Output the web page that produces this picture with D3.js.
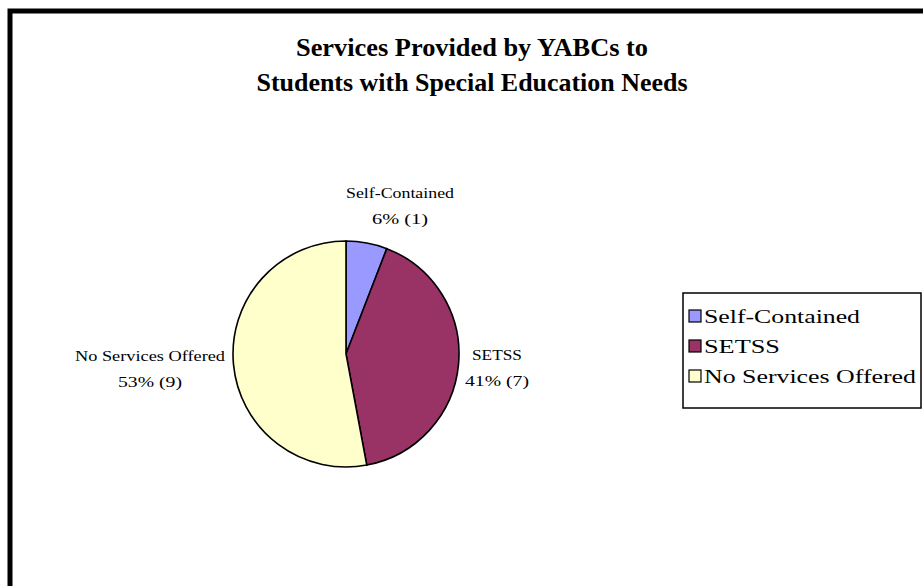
<!DOCTYPE html>
<html lang="en">
<head>
    <meta charset="UTF-8">
    <title>Services Provided by YABCs</title>
    <script src="https://cdn.jsdelivr.net/npm/d3@7"></script>
    <style>
        body{ margin:0; background:#fff; }
        svg{ display:block; }
        text{ font-family:"Liberation Serif","DejaVu Serif",serif; fill:#000; }
    </style>
</head>
<body>
    <svg id="chart" width="923" height="586"></svg>
    <script>
        // data
        var categories = ["Self-Contained", "SETSS", "No Services Offered"];
        var counts = [1, 7, 9];
        var percents = ["6%", "41%", "53%"];
        var colors = ["#9999ff", "#993366", "#ffffcc"];
        var titleLines = ["Services Provided by YABCs to", "Students with Special Education Needs"];

        var svg = d3.select("#chart");

        // outer chart border (continues past the window on the right and bottom)
        svg.append("rect")
            .attr("x", 10).attr("y", 11)
            .attr("width", 1000).attr("height", 700)
            .attr("fill", "#fff")
            .attr("stroke", "#000")
            .attr("stroke-width", 5);

        // title
        svg.selectAll(".title")
            .data(titleLines)
            .enter()
            .append("text")
            .attr("class", "title")
            .attr("x", 472)
            .attr("y", (d, i) => 56 + i * 35)
            .attr("text-anchor", "middle")
            .attr("font-size", 25)
            .attr("font-weight", "bold")
            .attr("textLength", (d, i) => i == 0 ? 352 : 431)
            .attr("lengthAdjust", "spacingAndGlyphs")
            .text(d => d);

        // pie
        var cx = 346, cy = 354, r = 113;
        var pie = d3.pie().sort(null).value(d => d)(counts);
        var arc = d3.arc().innerRadius(0).outerRadius(r);

        var g = svg.append("g").attr("transform", `translate(${cx},${cy})`);
        g.selectAll("path")
            .data(pie)
            .enter()
            .append("path")
            .attr("d", arc)
            .attr("fill", (d, i) => colors[i])
            .attr("stroke", "#000")
            .attr("stroke-width", 1.6);

        // data labels (name + percent (count))
        var labelPos = [
            {x: 400, y: 198, w1: 108, w2: 56},
            {x: 497, y: 360, w1: 50, w2: 64},
            {x: 150, y: 361, w1: 150, w2: 64}
        ];
        var lab = svg.selectAll(".dlabel")
            .data(pie)
            .enter()
            .append("g")
            .attr("class", "dlabel");
        lab.append("text")
            .attr("x", (d, i) => labelPos[i].x)
            .attr("y", (d, i) => labelPos[i].y)
            .attr("text-anchor", "middle")
            .attr("font-size", 15)
            .attr("textLength", (d, i) => labelPos[i].w1)
            .attr("lengthAdjust", "spacingAndGlyphs")
            .text((d, i) => categories[i]);
        lab.append("text")
            .attr("x", (d, i) => labelPos[i].x)
            .attr("y", (d, i) => labelPos[i].y + 26)
            .attr("text-anchor", "middle")
            .attr("font-size", 15)
            .attr("textLength", (d, i) => labelPos[i].w2)
            .attr("lengthAdjust", "spacingAndGlyphs")
            .text((d, i) => `${percents[i]} (${d.data})`);

        // legend
        var legendW = [156, 76, 212];
        var lg = svg.append("g").attr("transform", "translate(683,293)");
        lg.append("rect")
            .attr("width", 238).attr("height", 115)
            .attr("fill", "#fff")
            .attr("stroke", "#000")
            .attr("stroke-width", 1.5);
        var item = lg.selectAll(".item")
            .data(categories)
            .enter()
            .append("g")
            .attr("class", "item")
            .attr("transform", (d, i) => `translate(0,${30 + i * 30})`);
        item.append("rect")
            .attr("x", 6).attr("y", -13)
            .attr("width", 12).attr("height", 12)
            .attr("fill", (d, i) => colors[i])
            .attr("stroke", "#000")
            .attr("stroke-width", 1.2);
        item.append("text")
            .attr("x", 21)
            .attr("y", 0)
            .attr("font-size", 19)
            .attr("textLength", (d, i) => legendW[i])
            .attr("lengthAdjust", "spacingAndGlyphs")
            .text(d => d);
    </script>
</body>
</html>
